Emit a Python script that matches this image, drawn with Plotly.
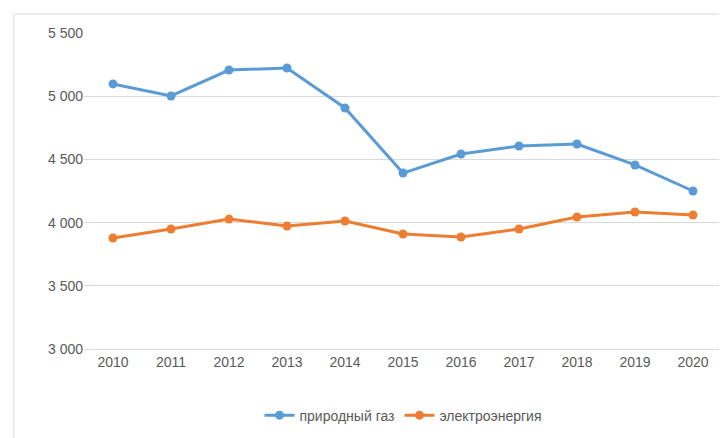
import plotly.graph_objects as go

years = ["2010","2011","2012","2013","2014","2015","2016","2017","2018","2019","2020"]
gas = [5097,5002,5207,5223,4907,4392,4543,4606,4622,4456,4250]
elec = [3878,3949,4028,3973,4013,3910,3886,3949,4044,4084,4060]
yticks = [3000,3500,4000,4500,5000,5500]
ytext = ["3 000","3 500","4 000","4 500","5 000","5 500"]

fig = go.Figure()
fig.add_trace(go.Scatter(x=years, y=gas, name="природный газ", mode="lines+markers",
    line=dict(color="#5B9BD5", width=3), marker=dict(size=9, color="#5B9BD5")))
fig.add_trace(go.Scatter(x=years, y=elec, name="электроэнергия", mode="lines+markers",
    line=dict(color="#ED7D31", width=3), marker=dict(size=9, color="#ED7D31")))
fig.update_layout(
    width=727, height=438, paper_bgcolor="white", plot_bgcolor="white",
    margin=dict(l=76, r=13, t=25, b=97, autoexpand=False),
    font=dict(family="Liberation Sans, Arial", size=14, color="#595959"),
    legend=dict(orientation="h", x=0.5, xanchor="center", y=-0.16, yanchor="top", font=dict(size=14)),
    shapes=[dict(type="rect", xref="paper", yref="paper", x0=-0.11, x1=1.012, y0=-0.29, y1=1.06,
                 line=dict(color="#D9D9D9", width=1))],
)
fig.update_xaxes(range=[-0.5, 10.5], showgrid=False, showline=True, linecolor="#D9D9D9", ticks="",
                 automargin=False)
fig.update_yaxes(range=[3000,5500], tickvals=yticks, ticktext=ytext, gridcolor="#D9D9D9",
                 zeroline=False, showline=False, ticksuffix="   ", automargin=False)
fig.write_html("out.html")
